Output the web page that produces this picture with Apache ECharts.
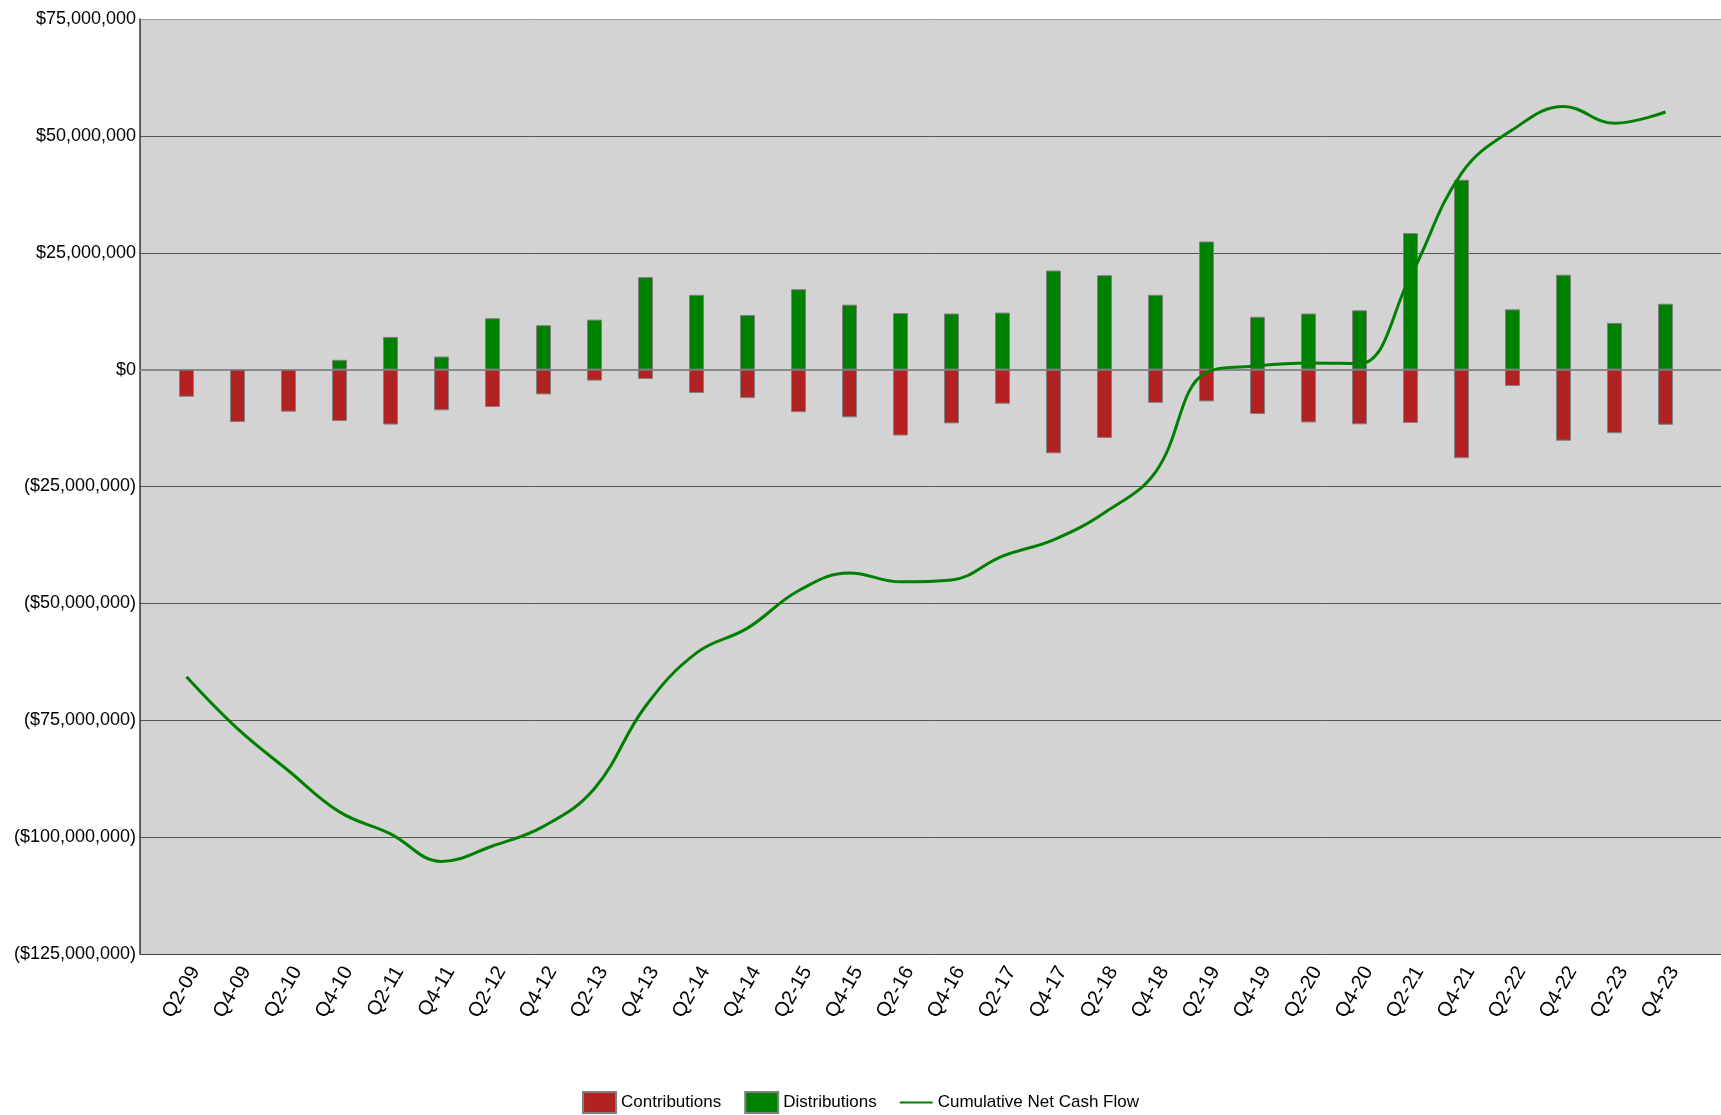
<!DOCTYPE html>
<html>
<head>
<meta charset="utf-8">
<title>Cash Flow</title>
<script src="https://cdn.jsdelivr.net/npm/echarts@6/dist/echarts.min.js"></script>
<style>
  html, body { margin: 0; padding: 0; background: #fff; }
  #chart { width: 1721px; height: 1115px; }
</style>
</head>
<body>
<div id="chart"></div>
<script>
// values in millions of dollars
const categories = ['Q2-09', 'Q4-09', 'Q2-10', 'Q4-10', 'Q2-11', 'Q4-11', 'Q2-12', 'Q4-12', 'Q2-13', 'Q4-13',
  'Q2-14', 'Q4-14', 'Q2-15', 'Q4-15', 'Q2-16', 'Q4-16', 'Q2-17', 'Q4-17', 'Q2-18', 'Q4-18',
  'Q2-19', 'Q4-19', 'Q2-20', 'Q4-20', 'Q2-21', 'Q4-21', 'Q2-22', 'Q4-22', 'Q2-23', 'Q4-23']
const contributions = [-5.8, -11.2, -9.0, -11.0, -11.75, -8.7, -8.0, -5.3, -2.35, -2.0,
  -5.0, -6.1, -9.1, -10.2, -14.1, -11.5, -7.3, -17.9, -14.6, -7.1,
  -6.8, -9.5, -11.3, -11.7, -11.4, -18.95, -3.5, -15.2, -13.6, -11.8]
const distributions = [null, null, null, 2.1, 7.0, 2.8, 11.0, 9.5, 10.7, 19.8,
  16.0, 11.7, 17.2, 13.9, 12.1, 12.0, 12.2, 21.2, 20.2, 16.0,
  27.4, 11.3, 12.0, 12.7, 29.2, 40.6, 12.9, 20.3, 10.0, 14.1]
const cumulative = [-65.7, -76.8, -85.8, -94.6, -99.3, -105.2, -101.9, -97.7, -89.6, -72.0,
  -60.6, -55.3, -47.3, -43.5, -45.4, -45.0, -39.9, -36.4, -30.6, -21.9,
  -0.6, 0.8, 1.4, 1.3, 20.0, 42.0, 51.3, 56.3, 52.7, 55.1]
const yTicks = { min: -125, max: 75, step: 25 }

const font = "'Liberation Sans', Arial, sans-serif"

function money(v) {
  const s = '$' + Math.round(Math.abs(v) * 1e6).toLocaleString('en-US')
  return v < 0 ? '(' + s + ')' : s
}

const chart = echarts.init(document.getElementById('chart'))
const option = {
  animation: false,
  backgroundColor: '#fff',
  grid: [
    // plot background
    { left: 140, right: 0, top: 19, bottom: 161, show: true, backgroundColor: '#d3d3d3', borderWidth: 0 },
    // data area
    { left: 161, right: 30, top: 19, bottom: 161 }
  ],
  xAxis: [
    {
      gridIndex: 0,
      type: 'category',
      data: categories,
      axisLine: { show: true, onZero: true, lineStyle: { color: '#8a8a8a', width: 2 } },
      axisTick: { show: false },
      axisLabel: { show: false },
      splitLine: { show: false }
    },
    {
      gridIndex: 1,
      type: 'category',
      data: categories,
      axisLine: { show: false },
      axisTick: { show: false },
      axisLabel: {
        rotate: 60,
        margin: 9,
        verticalAlign: 'top',
        color: '#000',
        fontSize: 20,
        fontFamily: font,
        interval: 0
      }
    }
  ],
  yAxis: [
    {
      gridIndex: 0,
      type: 'value',
      min: yTicks.min,
      max: yTicks.max,
      interval: yTicks.step,
      axisLine: { show: true, lineStyle: { color: '#333', width: 1.5 } },
      axisTick: { show: false },
      axisLabel: {
        margin: 4,
        color: '#000',
        fontSize: 18,
        fontFamily: font,
        formatter: money
      },
      splitLine: {
        show: true,
        lineStyle: {
          width: 1,
          color: ['#444', '#555', '#555', '#555', '#555', '#8a8a8a', '#555', '#555', '#a0a0a0']
        }
      }
    },
    {
      gridIndex: 1,
      type: 'value',
      min: yTicks.min,
      max: yTicks.max,
      interval: yTicks.step,
      show: false
    }
  ],
  legend: {
    top: 1086,
    left: 'center',
    itemWidth: 33,
    itemHeight: 21,
    itemGap: 23,
    textStyle: { fontSize: 17, fontFamily: font, color: '#000' },
    data: [
      { name: 'Contributions', icon: 'rect' },
      { name: 'Distributions', icon: 'rect' },
      { name: 'Cumulative Net Cash Flow', icon: 'path://M0 0H30V2H0Z' }
    ]
  },
  series: [
    {
      name: 'Contributions',
      type: 'bar',
      xAxisIndex: 1,
      yAxisIndex: 1,
      stack: 'flow',
      barWidth: 15,
      data: contributions,
      itemStyle: { color: '#b22222', borderColor: '#808080', borderWidth: 1 }
    },
    {
      name: 'Distributions',
      type: 'bar',
      xAxisIndex: 1,
      yAxisIndex: 1,
      stack: 'flow',
      barWidth: 15,
      data: distributions,
      itemStyle: { color: '#008000', borderColor: '#808080', borderWidth: 1 }
    },
    {
      name: 'Cumulative Net Cash Flow',
      type: 'line',
      xAxisIndex: 1,
      yAxisIndex: 1,
      data: cumulative,
      smooth: 0.4,
      symbol: 'none',
      z: 5,
      lineStyle: { color: '#008000', width: 3 },
      itemStyle: { color: '#008000' }
    }
  ]
}
chart.setOption(option)
</script>
</body>
</html>
